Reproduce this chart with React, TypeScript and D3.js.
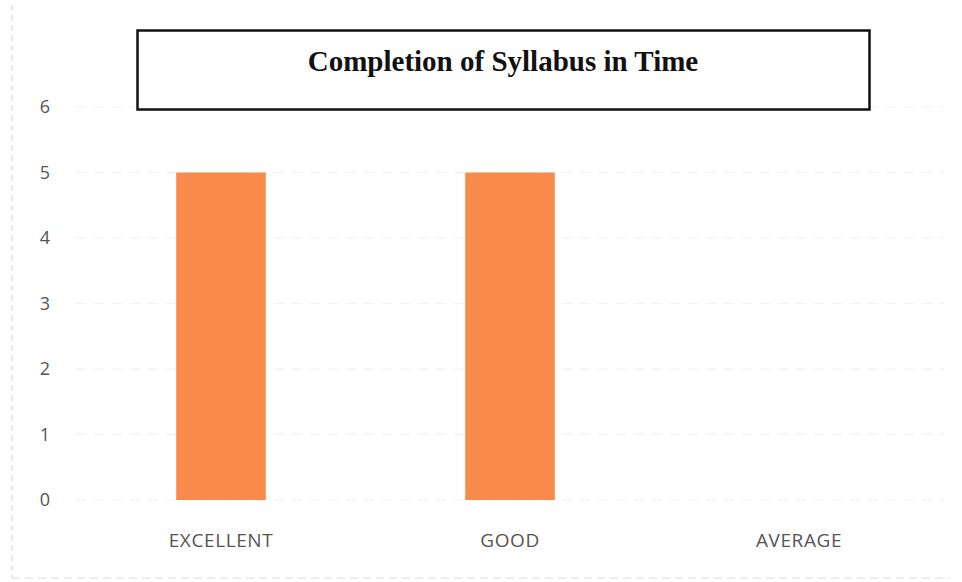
import React from "react";
import * as d3 from "d3";

const categories = ["EXCELLENT", "GOOD", "AVERAGE"];
const values = [5, 5, 0];
const yTicks = [0, 1, 2, 3, 4, 5, 6];
const title = "Completion of Syllabus in Time";

export default function App() {
  const W = 962, H = 582;
  const x = d3.scaleBand<string>().domain(categories).range([76.5, 943.5]).paddingInner(0.69).paddingOuter(0.345);
  const y = d3.scaleLinear().domain([0, 6]).range([500, 107]);
  return (
    <svg width={W} height={H} style={{ position: "fixed", left: 0, top: 0, background: "#fff" }}>
      <rect x={0} y={0} width={W} height={H} fill="#fff" />
      <line x1={12} x2={12} y1={5} y2={578} stroke="#e4e4e4" strokeWidth={1.5} strokeDasharray="6 4" />
      <line x1={12} x2={950} y1={578} y2={578} stroke="#e8e8e8" strokeWidth={1.5} strokeDasharray="8 5" />
      {yTicks.map((t) => (
        <g key={t}>
          <line x1={76} x2={944} y1={y(t)} y2={y(t)} stroke="#f0f0f0" strokeWidth={1.2} strokeDasharray="10 8" />
          <text x={45} y={y(t)} dy="0.35em" textAnchor="middle" fontFamily="'Open Sans', sans-serif" fontSize={18} fill="#555">{t}</text>
        </g>
      ))}
      {categories.map((c, i) => (
        <g key={c}>
          {values[i] > 0 && (
            <rect x={x(c)} y={y(values[i])} width={x.bandwidth()} height={y(0) - y(values[i])} fill="#F98A4B" />
          )}
          <text x={(x(c) as number) + x.bandwidth() / 2} y={540} dy="0.35em" textAnchor="middle" fontFamily="'Open Sans', sans-serif" fontSize={19} letterSpacing={0.6} fill="#555">{c}</text>
        </g>
      ))}
      <rect x={137.5} y={30.5} width={732} height={79} fill="#fff" stroke="#111" strokeWidth={2.5} />
      <text x={503} y={61} dy="0.35em" textAnchor="middle" fontFamily="'Liberation Serif', 'Times New Roman', serif" fontWeight="bold" fontSize={29} fill="#111">{title}</text>
    </svg>
  );
}
